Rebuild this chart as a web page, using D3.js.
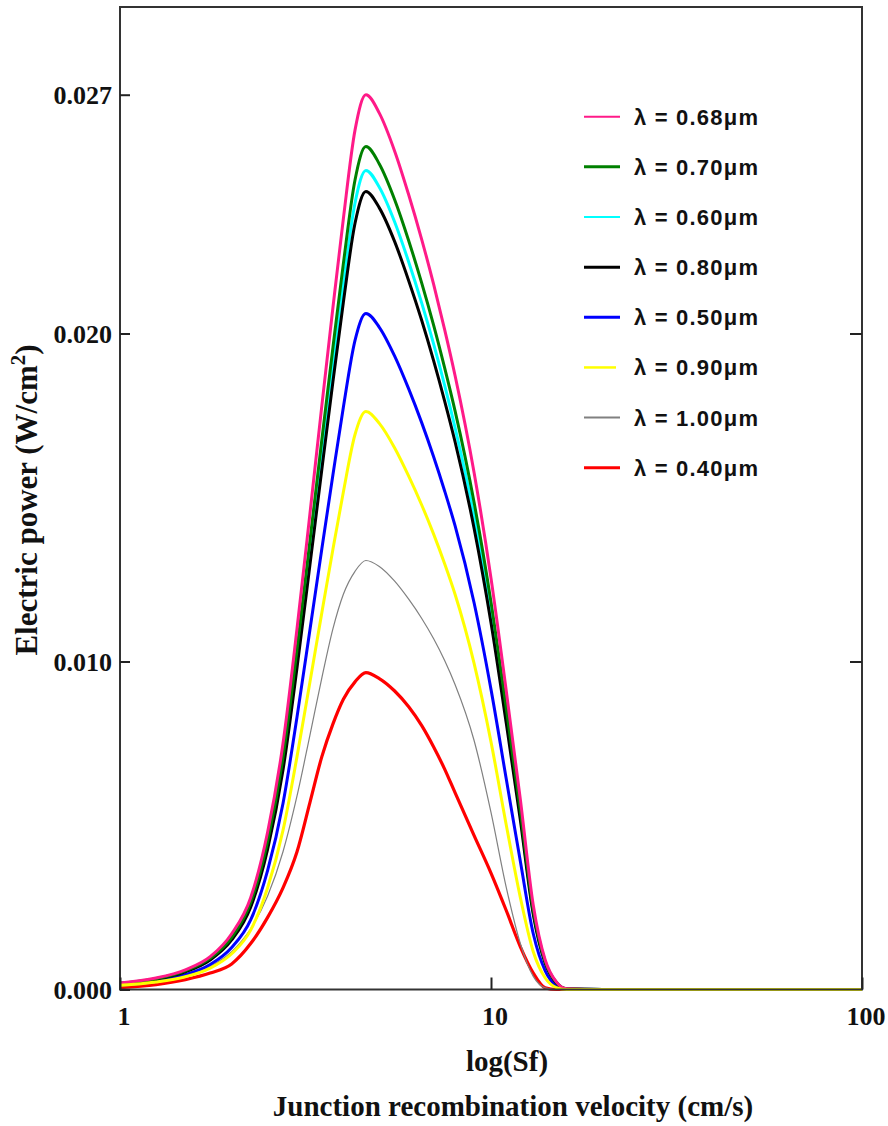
<!DOCTYPE html>
<html>
<head>
<meta charset="utf-8">
<script src="https://cdn.jsdelivr.net/npm/d3@7"></script>
<style>
  body { margin: 0; background: #fff; }
  .tick-label { font-family: "Liberation Serif", "Times New Roman", serif; font-weight: bold; font-size: 26px; fill: #111; }
  .axis-title { font-family: "Liberation Serif", "Times New Roman", serif; font-weight: bold; font-size: 29px; fill: #111; }
  .legend-text { font-family: "Liberation Sans", Arial, sans-serif; font-weight: bold; font-size: 22px; letter-spacing: 1.2px; fill: #111; }
</style>
</head>
<body>
<div id="chart"></div>
<script>
// Junction recombination velocity samples (cm/s)
var sf = [1, 1.25, 1.5, 1.75, 2, 2.25, 2.5, 2.75, 3, 3.25, 3.5, 3.75, 4, 4.3, 4.6, 5,
  5.5, 6, 6.5, 7, 7.5, 8, 9, 10, 11, 12, 13, 14, 15, 16, 20, 40, 100];

// Electric power (W/cm2), one list per wavelength
var p068 = [0.00020, 0.00035, 0.00060, 0.00100, 0.00170, 0.00280, 0.00480, 0.00750, 0.01100, 0.01450,
  0.01780, 0.02080, 0.02350, 0.02620, 0.02728, 0.02672, 0.02556, 0.02423, 0.02288, 0.02151,
  0.02012, 0.01872, 0.01577, 0.01254, 0.00908, 0.00579, 0.00257, 0.00090, 0.00023, 0.00002, 0, 0, 0];
var p070 = [0.00019, 0.00033, 0.00057, 0.00095, 0.00159, 0.00265, 0.00452, 0.00707, 0.01036, 0.01367,
  0.01676, 0.01958, 0.02213, 0.02468, 0.02570, 0.02517, 0.02408, 0.02283, 0.02155, 0.02026,
  0.01895, 0.01764, 0.01486, 0.01181, 0.00855, 0.00545, 0.00242, 0.00085, 0.00022, 0.00002, 0, 0, 0];
var p060 = [0.00018, 0.00032, 0.00055, 0.00092, 0.00155, 0.00257, 0.00439, 0.00687, 0.01006, 0.01328,
  0.01628, 0.01903, 0.02150, 0.02398, 0.02497, 0.02446, 0.02340, 0.02218, 0.02094, 0.01969,
  0.01842, 0.01713, 0.01444, 0.01148, 0.00831, 0.00530, 0.00235, 0.00082, 0.00021, 0.00002, 0, 0, 0];
var p080 = [0.00018, 0.00031, 0.00054, 0.00090, 0.00151, 0.00251, 0.00428, 0.00669, 0.00981, 0.01294,
  0.01586, 0.01854, 0.02095, 0.02336, 0.02433, 0.02383, 0.02280, 0.02161, 0.02041, 0.01918,
  0.01794, 0.01670, 0.01407, 0.01118, 0.00810, 0.00516, 0.00229, 0.00080, 0.00020, 0.00002, 0, 0, 0];
var p050 = [0.00015, 0.00026, 0.00045, 0.00076, 0.00128, 0.00212, 0.00363, 0.00567, 0.00831, 0.01096,
  0.01344, 0.01570, 0.01775, 0.01979, 0.02061, 0.02019, 0.01931, 0.01831, 0.01729, 0.01625,
  0.01520, 0.01414, 0.01180, 0.00915, 0.00640, 0.00390, 0.00170, 0.00057, 0.00012, 0.00001, 0, 0, 0];
var p090 = [0.00013, 0.00023, 0.00039, 0.00065, 0.00109, 0.00181, 0.00310, 0.00485, 0.00710, 0.00937,
  0.01149, 0.01343, 0.01517, 0.01692, 0.01762, 0.01726, 0.01651, 0.01565, 0.01478, 0.01389,
  0.01298, 0.01205, 0.00995, 0.00755, 0.00500, 0.00280, 0.00115, 0.00035, 0.00006, 0, 0, 0, 0];
var p100 = [0.00010, 0.00022, 0.00040, 0.00070, 0.00115, 0.00185, 0.00285, 0.00420, 0.00590, 0.00775,
  0.00950, 0.01100, 0.01205, 0.01275, 0.01308, 0.01290, 0.01245, 0.01190, 0.01132, 0.01070,
  0.01003, 0.00930, 0.00760, 0.00540, 0.00310, 0.00140, 0.00040, 0.00005, 0, 0, 0, 0, 0];
var p040 = [0.00006, 0.00015, 0.00030, 0.00050, 0.00078, 0.00140, 0.00220, 0.00310, 0.00420, 0.00570,
  0.00710, 0.00810, 0.00885, 0.00938, 0.00966, 0.00948, 0.00910, 0.00862, 0.00805, 0.00740,
  0.00672, 0.00600, 0.00470, 0.00355, 0.00240, 0.00130, 0.00050, 0.00005, 0, 0, 0, 0, 0];

// legend order (top to bottom)
var legendLabels = ["λ = 0.68μm", "λ = 0.70μm", "λ = 0.60μm", "λ = 0.80μm",
  "λ = 0.50μm", "λ = 0.90μm", "λ = 1.00μm", "λ = 0.40μm"];
var legendValues = [p068, p070, p060, p080, p050, p090, p100, p040];
var colors = ["#ff1a88", "#008000", "#00ffff", "#000000", "#0000ff", "#ffff00", "#808080", "#ff0000"];
var widths = [3, 3, 3, 3, 3, 3, 1.2, 3.2];
var legendWidths = [2, 3, 2, 3, 3, 2.5, 2, 3];

// drawing order (index into the legend lists), last one on top
var drawOrder = [7, 6, 4, 2, 3, 1, 0, 5];

var yTicks = [0, 0.010, 0.020, 0.02728];
var yTickLabels = ["0.000", "0.010", "0.020", "0.027"];
var xTicks = [1, 10, 100];
var xTickLabels = ["1", "10", "100"];

var svgWidth = 888;
var svgHeight = 1126;

var frame = { left: 120, top: 7, right: 862, bottom: 989.5 };

var svg = d3.select("#chart")
  .append("svg")
  .attr("width", svgWidth)
  .attr("height", svgHeight)
  .style("background", "#fff");

var xScale = d3.scaleLog()
  .domain([1, 100])
  .range([frame.left, frame.right]);

// 0.000 at the bottom frame, 0.030 at the top frame
var yScale = d3.scaleLinear()
  .domain([0, 0.03])
  .range([frame.bottom, frame.bottom - 984]);

var line = d3.line()
  .x(d => xScale(d[0]))
  .y(d => yScale(d[1]))
  .curve(d3.curveMonotoneX);

// curves
var curvesGroup = svg.append("g");
drawOrder.forEach(function(i) {
  var pts = sf.map((s, k) => [s, legendValues[i][k]]);
  curvesGroup.append("path")
    .datum(pts)
    .attr("d", line)
    .attr("fill", "none")
    .attr("stroke", colors[i])
    .attr("stroke-width", widths[i])
    .attr("stroke-linejoin", "round");
});

// frame
svg.append("rect")
  .attr("x", frame.left)
  .attr("y", frame.top)
  .attr("width", frame.right - frame.left)
  .attr("height", frame.bottom - frame.top)
  .attr("fill", "none")
  .attr("stroke", "#333")
  .attr("stroke-width", 2);

// y ticks, left (inward) and right for the inner ones
var leftAxis = d3.axisRight(yScale)
  .tickValues(yTicks)
  .tickSize(10)
  .tickFormat("");
svg.append("g")
  .attr("transform", `translate(${frame.left}, 0)`)
  .call(leftAxis)
  .call(g => g.select(".domain").remove())
  .selectAll("line").attr("stroke", "#222").attr("stroke-width", 2);

var rightAxis = d3.axisLeft(yScale)
  .tickValues(yTicks.slice(1, 3))
  .tickSize(12)
  .tickFormat("");
svg.append("g")
  .attr("transform", `translate(${frame.right}, 0)`)
  .call(rightAxis)
  .call(g => g.select(".domain").remove())
  .selectAll("line").attr("stroke", "#222").attr("stroke-width", 2);

svg.selectAll("text.ylab")
  .data(yTicks)
  .enter()
  .append("text")
  .attr("class", "tick-label ylab")
  .attr("x", 112)
  .attr("y", d => yScale(d) + 9)
  .attr("text-anchor", "end")
  .text((d, i) => yTickLabels[i]);

// x ticks (inward, bottom)
var bottomAxis = d3.axisTop(xScale)
  .tickValues(xTicks)
  .tickSize(12)
  .tickFormat("");
svg.append("g")
  .attr("transform", `translate(0, ${frame.bottom})`)
  .call(bottomAxis)
  .call(g => g.select(".domain").remove())
  .selectAll("line").attr("stroke", "#222").attr("stroke-width", 2);

svg.selectAll("text.xlab")
  .data(xTicks)
  .enter()
  .append("text")
  .attr("class", "tick-label xlab")
  .attr("x", d => xScale(d) + 4)
  .attr("y", 1025)
  .attr("text-anchor", "middle")
  .text((d, i) => xTickLabels[i]);

// axis titles
svg.append("text")
  .attr("class", "axis-title")
  .attr("x", 507)
  .attr("y", 1071)
  .attr("text-anchor", "middle")
  .text("log(Sf)");

svg.append("text")
  .attr("class", "axis-title")
  .attr("x", 513)
  .attr("y", 1116)
  .attr("text-anchor", "middle")
  .text("Junction recombination velocity (cm/s)");

var yTitle = svg.append("text")
  .attr("class", "axis-title")
  .attr("transform", "translate(37, 500) rotate(-90)")
  .attr("text-anchor", "middle")
  .style("font-size", "31px");
yTitle.append("tspan").text("Electric power (W/cm");
yTitle.append("tspan").attr("dy", -12).style("font-size", "21px").text("2");
yTitle.append("tspan").attr("dy", 12).text(")");

// legend
var legend = svg.append("g");
legendLabels.forEach(function(label, i) {
  var ly = 116.7 + i * 50.15;
  legend.append("line")
    .attr("x1", 584)
    .attr("x2", i === 5 ? 616 : 620)
    .attr("y1", ly)
    .attr("y2", ly)
    .attr("stroke", colors[i])
    .attr("stroke-width", legendWidths[i]);
  legend.append("text")
    .attr("class", "legend-text")
    .attr("x", 634)
    .attr("y", ly + 8)
    .text(label);
});
</script>
</body>
</html>
